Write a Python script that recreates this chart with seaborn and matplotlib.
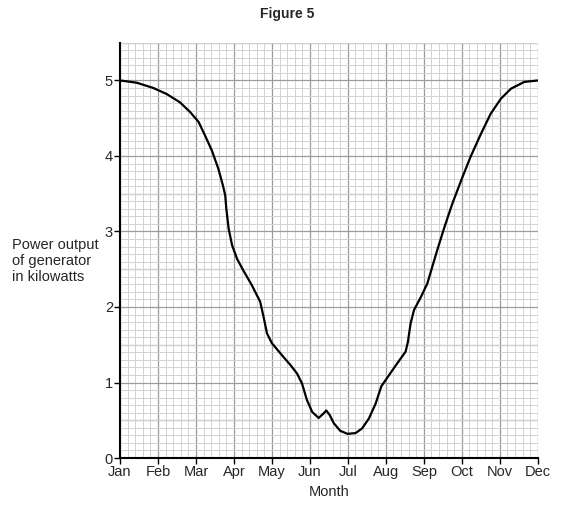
import matplotlib
matplotlib.use('Agg')
import matplotlib.pyplot as plt
import seaborn as sns
import pandas as pd
from matplotlib.ticker import MultipleLocator

# values (month index 0 = Jan, 11 = Dec)
month_pos = [0.00, 0.44, 0.88, 1.23, 1.58, 1.85, 2.07, 2.24, 2.42, 2.59,
             2.71, 2.77, 2.80, 2.86, 2.95, 3.08, 3.24, 3.47, 3.69, 3.78,
             3.87, 4.00, 4.30, 4.49, 4.66, 4.79, 4.92, 5.06, 5.23, 5.36,
             5.43, 5.52, 5.63, 5.80, 5.99, 6.20, 6.37, 6.55, 6.73, 6.88,
             7.21, 7.52, 7.58, 7.65, 7.74, 7.92, 8.09, 8.22, 8.35, 8.53,
             8.75, 9.00, 9.23, 9.50, 9.76, 10.03, 10.29, 10.64, 11.00]
power_kw = [5.00, 4.97, 4.90, 4.82, 4.71, 4.58, 4.45, 4.27, 4.07, 3.83,
            3.61, 3.48, 3.30, 3.04, 2.82, 2.64, 2.49, 2.29, 2.07, 1.87,
            1.65, 1.52, 1.34, 1.23, 1.12, 0.99, 0.77, 0.61, 0.53, 0.59,
            0.63, 0.57, 0.46, 0.36, 0.32, 0.33, 0.39, 0.52, 0.72, 0.95,
            1.19, 1.41, 1.54, 1.78, 1.96, 2.13, 2.31, 2.53, 2.75, 3.04,
            3.37, 3.70, 3.99, 4.29, 4.56, 4.76, 4.89, 4.98, 5.00]
month_labels = ['Jan', 'Feb', 'Mar', 'Apr', 'May', 'Jun', 'Jul', 'Aug',
                'Sep', 'Oct', 'Nov', 'Dec']
y_ticks = [0, 1, 2, 3, 4, 5]

df = pd.DataFrame({'month': month_pos, 'power': power_kw})

sns.set_style('white')
plt.rcParams['font.family'] = ['Liberation Sans', 'DejaVu Sans']

fig = plt.figure(figsize=(5.74, 5.18), dpi=100)
ax = fig.add_axes([0.209, 0.1158, 0.728, 0.8018])

# graph paper grid
ax.set_xlim(0, 11)
ax.set_ylim(0, 5.5)
ax.xaxis.set_major_locator(MultipleLocator(1))
ax.xaxis.set_minor_locator(MultipleLocator(0.2))
ax.yaxis.set_major_locator(MultipleLocator(1))
ax.yaxis.set_minor_locator(MultipleLocator(0.1))
ax.grid(which='minor', color='#d2d2d2', linewidth=0.7)
ax.grid(which='major', color='#9c9c9c', linewidth=0.9)
for yy in [0.5, 1.5, 2.5, 3.5, 4.5, 5.5]:
    ax.axhline(yy, color='#9c9c9c', linewidth=0.9, zorder=0.5)
ax.set_axisbelow(True)

sns.lineplot(data=df, x='month', y='power', color='black', linewidth=1.6,
             ax=ax, zorder=3, solid_joinstyle='round', solid_capstyle='round')

ax.set_xticks(range(len(month_labels)))
ax.set_xticklabels(month_labels)
ax.set_yticks(y_ticks)
ax.set_yticklabels([str(t) for t in y_ticks])
ax.tick_params(which='major', length=4, width=1, labelsize=10.5, pad=1,
               bottom=True, left=True, color='black')
ax.tick_params(which='minor', length=0)

for s in ['top', 'right']:
    ax.spines[s].set_visible(False)
for s in ['left', 'bottom']:
    ax.spines[s].set_color('black')
    ax.spines[s].set_linewidth(1.5)

ax.set_xlabel('Month', fontsize=10.5, labelpad=4)
ax.set_ylabel('')

fig.text(12 / 574, 1 - 261 / 518, 'Power output\nof generator\nin kilowatts',
         ha='left', va='center', fontsize=10.5, linespacing=1.2)
fig.text(0.5, 1 - 14 / 518, 'Figure 5', ha='center', va='center',
         fontsize=10, fontweight='bold')

fig.savefig('out.png', dpi=100)
